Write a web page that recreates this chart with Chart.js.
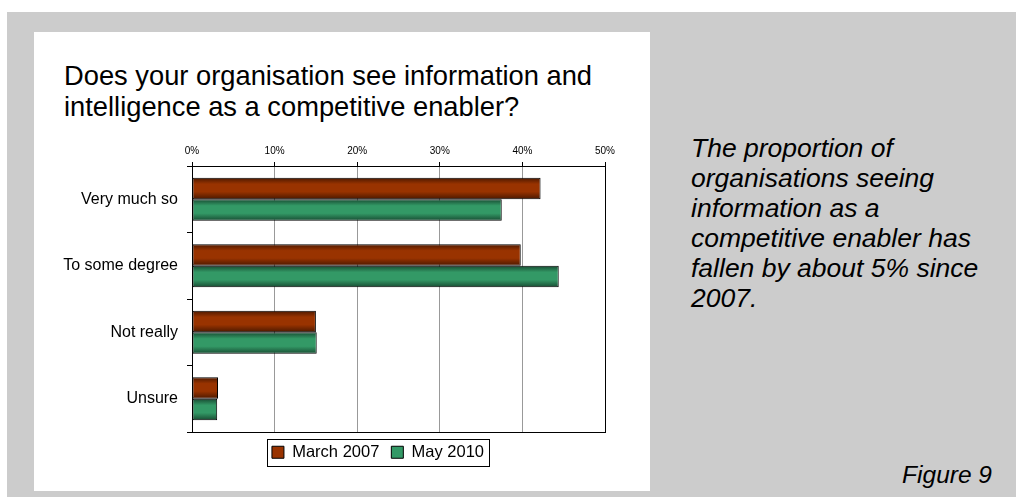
<!DOCTYPE html>
<html>
<head>
<meta charset="utf-8">
<script src="https://cdn.jsdelivr.net/npm/chart.js@4/dist/chart.umd.min.js"></script>
<style>
  html, body { margin: 0; padding: 0; background: #ffffff; }
  body { width: 1016px; height: 501px; position: relative; overflow: hidden; font-family: "Liberation Sans", Arial, sans-serif; }
  #bg { position: absolute; left: 7px; top: 12px; width: 1009px; height: 485px; background: #cccccc; }
  #panel { position: absolute; left: 34px; top: 32px; width: 616px; height: 459px; background: #ffffff; }
  #title { position: absolute; left: 64px; top: 60px; font-size: 27.3px; line-height: 31px; color: #000; white-space: nowrap; }
  #note { position: absolute; left: 691px; top: 133px; font-size: 26.5px; line-height: 30px; font-style: italic; color: #000; white-space: nowrap; }
  #fig { position: absolute; right: 24px; top: 461px; font-size: 24.5px; line-height: 28px; font-style: italic; color: #000; white-space: nowrap; }
  #wrap { position: absolute; left: 0; top: 0; width: 1016px; height: 501px; }
</style>
</head>
<body>
<div id="bg"></div>
<div id="panel"></div>
<div id="title">Does your organisation see information and<br>intelligence as a competitive enabler?</div>
<div id="note">The proportion of<br>organisations seeing<br>information as a<br>competitive enabler has<br>fallen by about 5% since<br>2007.</div>
<div id="fig">Figure 9</div>
<div id="wrap"><canvas id="c" width="1016" height="501"></canvas></div>
<script>
const categories = ["Very much so", "To some degree", "Not really", "Unsure"];
const seriesNames = ["March 2007", "May 2010"];
const march2007 = [42.2, 39.8, 15.0, 3.15];
const may2010 = [37.5, 44.4, 15.1, 3.05];
const xTicks = [0, 10, 20, 30, 40, 50];

const FONT = "'Liberation Sans', Arial, sans-serif";

const gradientPlugin = {
  id: 'barGradient',
  beforeDatasetsDraw(chart) {
    const ctx = chart.ctx;
    const stops = [
      ['#4a1800', '#993300'],
      ['#174a31', '#339966']
    ];
    chart.data.datasets.forEach((ds, i) => {
      const meta = chart.getDatasetMeta(i);
      meta.data.forEach(bar => {
        const top = bar.y - bar.height / 2;
        const g = ctx.createLinearGradient(0, top, 0, top + bar.height);
        g.addColorStop(0, stops[i][0]);
        g.addColorStop(0.3, stops[i][1]);
        g.addColorStop(0.65, stops[i][1]);
        g.addColorStop(1, stops[i][0]);
        bar.options = Object.assign({}, bar.options, { backgroundColor: g });
      });
    });
  }
};

const framePlugin = {
  id: 'frames',
  afterDraw(chart) {
    const ctx = chart.ctx;
    const a = chart.chartArea;
    ctx.save();
    ctx.strokeStyle = '#000';
    ctx.lineWidth = 1;
    ctx.strokeRect(Math.round(a.left) + 0.5, Math.round(a.top) + 0.5, Math.round(a.right - a.left), Math.round(a.bottom - a.top));
    const hb = chart.legend && chart.legend.legendHitBoxes;
    if (hb && hb.length) {
      let l = Infinity, r = -Infinity, t = Infinity, b = -Infinity;
      hb.forEach(h => { l = Math.min(l, h.left); r = Math.max(r, h.left + h.width); t = Math.min(t, h.top); b = Math.max(b, h.top + h.height); });
      ctx.strokeRect(Math.round(l - 5) + 0.5, Math.round(t - 5) + 0.5, Math.round(r - l + 10), Math.round(b - t + 10));
    }
    ctx.restore();
  }
};

new Chart(document.getElementById('c'), {
  type: 'bar',
  data: {
    labels: categories,
    datasets: [
      { label: seriesNames[0], data: march2007, backgroundColor: '#993300', borderColor: '#000', borderWidth: 1, borderSkipped: false },
      { label: seriesNames[1], data: may2010, backgroundColor: '#339966', borderColor: '#000', borderWidth: 1, borderSkipped: false }
    ]
  },
  options: {
    indexAxis: 'y',
    responsive: false,
    animation: false,
    events: [],
    datasets: { bar: { categoryPercentage: 0.65, barPercentage: 1.0 } },
    layout: { padding: { left: 151, right: 411, top: 130, bottom: 30.5 } },
    scales: {
      x: {
        position: 'top',
        min: 0, max: 50,
        afterBuildTicks(scale) { scale.ticks = xTicks.map(v => ({ value: v })); },
        afterFit(scale) { scale.height = 36; },
        ticks: { callback: v => v + '%', font: { family: FONT, size: 10 }, color: '#000', padding: 5, maxRotation: 0 },
        grid: { color: '#999999', tickColor: '#000', tickLength: 4, lineWidth: 1 },
        border: { color: '#000', width: 1 }
      },
      y: {
        afterFit(scale) {
          scale.width = 41;
          scale._computeLabelArea = function () { return undefined; };
        },
        ticks: { font: { family: FONT, size: 16 }, color: '#000', padding: 9 },
        grid: { drawOnChartArea: false, tickColor: '#000', tickLength: 5, offset: true },
        border: { color: '#000', width: 1 }
      }
    },
    plugins: {
      legend: {
        position: 'bottom',
        labels: { font: { family: FONT, size: 16.5 }, color: '#000', boxWidth: 12, boxHeight: 12, padding: 12 }
      },
      tooltip: { enabled: false },
      title: { display: false }
    }
  },
  plugins: [gradientPlugin, framePlugin]
});
</script>
</body>
</html>
